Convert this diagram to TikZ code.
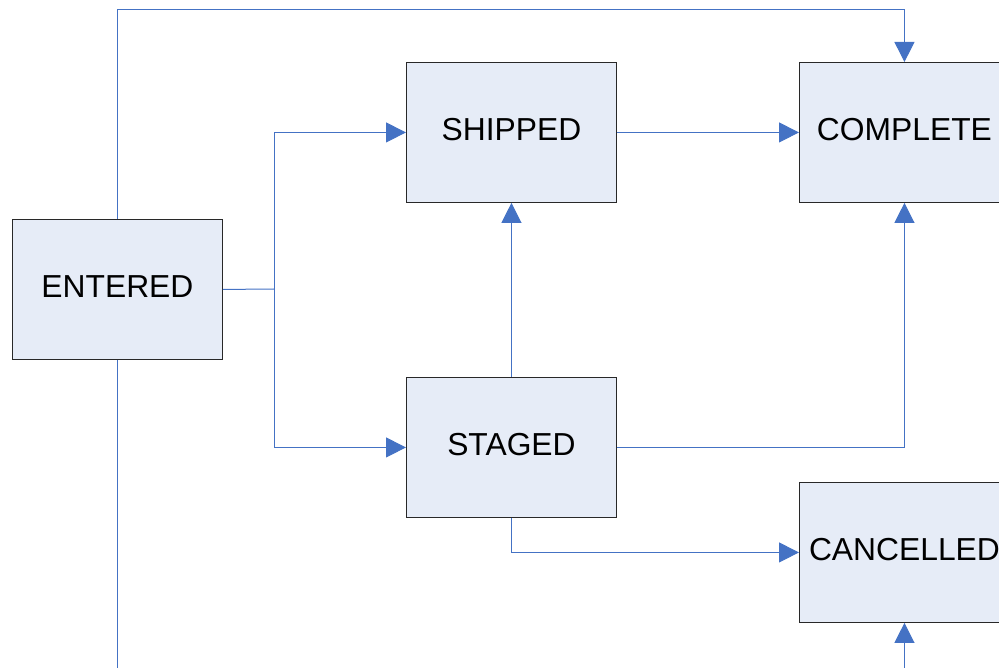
\documentclass[tikz,border=0pt]{standalone}
\usepackage{fontspec}
\setmainfont{Liberation Sans}
\usetikzlibrary{arrows.meta}
\definecolor{boxfill}{RGB}{230,236,247}
\definecolor{lineblue}{RGB}{68,114,196}
\definecolor{boxline}{RGB}{40,40,40}
\begin{document}
\begin{tikzpicture}[x=1pt,y=-1pt,
  state/.style={draw=boxline, fill=boxfill, line width=0.9pt, minimum width=210pt, minimum height=140pt,
    inner sep=0pt, text depth=6pt, font=\fontsize{31.8}{32}\selectfont, anchor=north west},
  link/.style={draw=lineblue, line width=1pt},
  conn/.style={link, -{Triangle[length=20pt,width=20pt]}}]
\useasboundingbox (0,0) rectangle (999,668);
\clip (0,0) rectangle (999,668);
\node[state] (entered) at (12,219) {ENTERED};
\node[state] (shipped) at (406,62) {SHIPPED};
\node[state] (complete) at (799,62) {COMPLETE};
\node[state] (staged) at (406,377) {STAGED};
\node[state] (cancelled) at (799,482) {CANCELLED};
\coordinate (topy) at (0,10);
\coordinate (boty) at (0,720);
\coordinate (split) at (274,289);
\draw[conn] (entered.north) -- (entered.north |- topy) -| (complete.north);
\draw[link] (entered.east) -- (split);
\draw[conn] (split) |- (shipped.west);
\draw[conn] (split) |- (staged.west);
\draw[conn] (shipped.east) -- (complete.west);
\draw[conn] (staged.north) -- (shipped.south);
\draw[conn] (staged.east) -| (complete.south);
\draw[conn] (staged.south) |- (cancelled.west);
\draw[conn] (entered.south) -- (entered.south |- boty) -| (cancelled.south);
\end{tikzpicture}
\end{document}
